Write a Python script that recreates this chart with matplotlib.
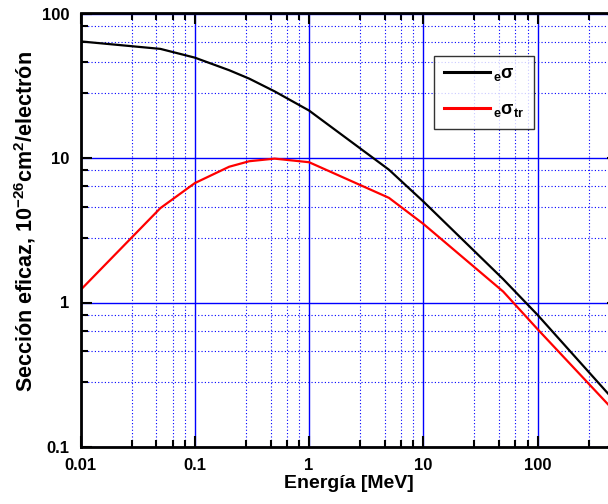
import matplotlib
matplotlib.use("Agg")
import matplotlib.pyplot as plt
from matplotlib.ticker import FixedLocator, NullFormatter

plt.rcParams['font.family'] = ['Liberation Sans', 'DejaVu Sans']
plt.rcParams['font.weight'] = 'bold'
plt.rcParams['mathtext.fontset'] = 'custom'
plt.rcParams['mathtext.rm'] = 'Liberation Sans:bold'
plt.rcParams['mathtext.it'] = 'Liberation Sans:bold'
plt.rcParams['mathtext.bf'] = 'Liberation Sans:bold'
plt.rcParams['mathtext.default'] = 'bf'

# photon energy [MeV]
energy = [0.01, 0.05, 0.1, 0.2, 0.3, 0.5, 1, 5, 10, 50, 100, 500]
# total Compton cross section per electron, 1e-26 cm^2
sigma = [64.1, 56.9, 49.5, 40.5, 35.4, 28.9, 21.3, 8.3, 5.0, 1.45, 0.82, 0.198]
# energy-transfer cross section per electron, 1e-26 cm^2
sigma_tr = [1.22, 4.5, 6.7, 8.7, 9.5, 9.9, 9.35, 5.3, 3.5, 1.19, 0.653, 0.168]

major_x = [0.01, 0.1, 1, 10, 100]
major_y = [0.1, 1, 10, 100]
minor_steps = [2.8, 4.6, 6.4, 8.2]

# axes run a little past the right edge of the picture, as in the reference
ax_w = 537.0
fig = plt.figure(figsize=(6.08, 5.04), dpi=100)
ax = fig.add_axes([80.5 / 608, 57 / 504, ax_w / 608, 433.5 / 504])

ax.plot(energy, sigma, color='black', lw=1.6, label=r'$_{e}\sigma$')
ax.plot(energy, sigma_tr, color='#ff0000', lw=1.6, label=r'$_{e}\sigma_{tr}$')

ax.set_xscale('log')
ax.set_yscale('log')
ax.set_xlim(0.01, 500)
ax.set_ylim(0.1, 100)

ax.xaxis.set_major_locator(FixedLocator(major_x))
ax.yaxis.set_major_locator(FixedLocator(major_y))
ax.xaxis.set_minor_locator(FixedLocator([d * s for d in major_x for s in minor_steps]))
ax.yaxis.set_minor_locator(FixedLocator([d * s for d in major_y[:-1] for s in minor_steps]))
ax.set_xticklabels(['0.01', '0.1', '1', '10', '100'])
ax.set_yticklabels(['0.1', '1', '10', '100'])
ax.xaxis.set_minor_formatter(NullFormatter())
ax.yaxis.set_minor_formatter(NullFormatter())

ax.grid(which='major', color='#0000ff', lw=1.0, ls='-')
ax.grid(which='minor', color='#0000ff', lw=0.8, ls=(0, (1, 2)))
ax.set_axisbelow(True)

ax.tick_params(which='both', direction='in', top=True, right=True, width=1.5,
               labelsize=12, pad=8)
ax.tick_params(which='major', length=8)
ax.tick_params(which='minor', length=5)
for s in ax.spines.values():
    s.set_linewidth(2)

ax.set_xlabel('Energía [MeV]', fontsize=14, fontweight='bold', labelpad=1)
ax.set_ylabel(r'Sección eficaz, 10$^{-26}$cm$^{2}$/electrón', fontsize=15.5,
              fontweight='bold')
ax.yaxis.set_label_coords(-42 / ax_w, 0.52)

leg = ax.legend(loc='upper left', bbox_to_anchor=((434 - 80.5) / ax_w, 1 - 42 / 433.5),
                borderaxespad=0, fontsize=13, frameon=True, fancybox=False,
                handlelength=2.55, handletextpad=0.15, borderpad=0.55,
                labelspacing=1.0)
leg.get_frame().set_edgecolor('black')
leg.get_frame().set_linewidth(1.0)
for h in leg.get_lines():
    h.set_linewidth(2.2)

fig.savefig('out.png', dpi=100)
